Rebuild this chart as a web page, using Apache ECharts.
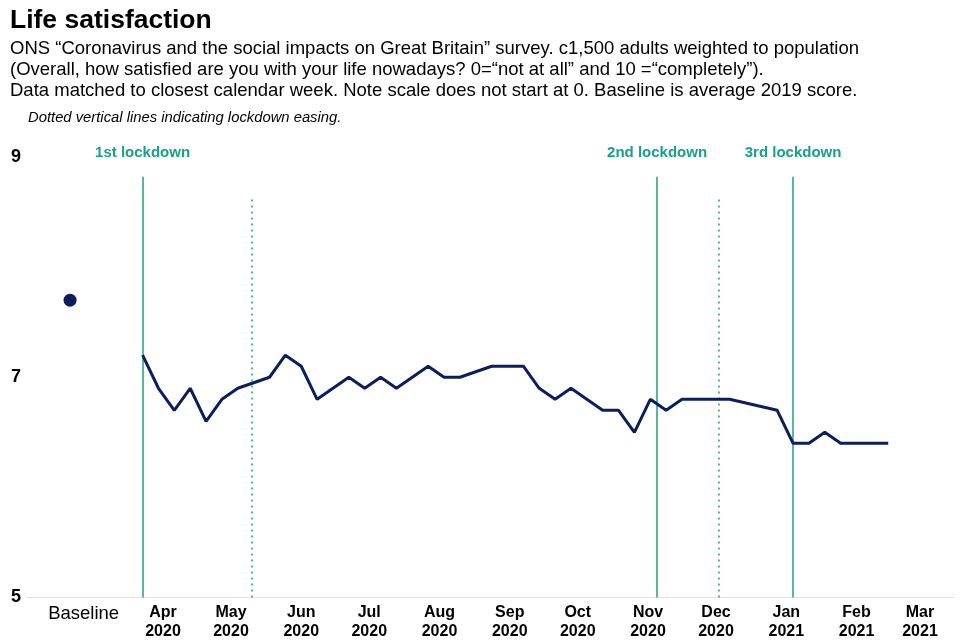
<!DOCTYPE html>
<html>
<head>
<meta charset="utf-8">
<script src="https://cdn.jsdelivr.net/npm/echarts@6/dist/echarts.min.js"></script>
<style>html,body{margin:0;padding:0;background:#fff}#c{width:960px;height:640px}</style>
</head>
<body>
<div id="c"></div>
<script>
const weekDates = ['2020-03-23','2020-03-30','2020-04-06','2020-04-13','2020-04-20','2020-04-27','2020-05-04',
  '2020-05-18','2020-05-25','2020-06-01','2020-06-08','2020-06-22','2020-06-29','2020-07-06','2020-07-13',
  '2020-07-27','2020-08-03','2020-08-10','2020-08-24','2020-08-31','2020-09-07','2020-09-14','2020-09-21',
  '2020-09-28','2020-10-12','2020-10-19','2020-10-26','2020-11-02','2020-11-09','2020-11-16','2020-11-23',
  '2020-11-30','2020-12-07','2020-12-28','2021-01-04','2021-01-11','2021-01-18','2021-01-25','2021-02-01',
  '2021-02-08','2021-02-15'];
const satisfaction = [7.2,6.9,6.7,6.9,6.6,6.8,6.9,
  7.0,7.2,7.1,6.8,7.0,6.9,7.0,6.9,
  7.1,7.0,7.0,7.1,7.1,7.1,6.9,6.8,
  6.9,6.7,6.7,6.5,6.8,6.7,6.8,6.8,
  6.8,6.8,6.7,6.4,6.4,6.5,6.4,6.4,
  6.4,6.4];
const baselineDate = '2020-02-20';
const baselineValue = 7.7;
const baselineLabelDate = '2020-02-26';
const lockdownDates = ['2020-03-23','2020-11-05','2021-01-04'];
const lockdownNames = ['1st lockdown','2nd lockdown','3rd lockdown'];
const easingDates = ['2020-05-10','2020-12-02'];
const monthTicks = ['2020-04-01','2020-05-01','2020-06-01','2020-07-01','2020-08-01','2020-09-01','2020-10-01','2020-11-01','2020-12-01','2021-01-01','2021-02-01','2021-03-01'];
const monthLabels = ['Apr\n2020','May\n2020','Jun\n2020','Jul\n2020','Aug\n2020','Sep\n2020','Oct\n2020','Nov\n2020','Dec\n2020','Jan\n2021','Feb\n2021','Mar\n2021'];
const yTicks = [5,7,9];

// days since 2020-01-01 (UTC) so the x axis is a plain linear day scale
const day = d => Math.round((Date.UTC(+d.slice(0,4), +d.slice(5,7)-1, +d.slice(8,10)) - Date.UTC(2020,0,1)) / 86400000);
const teal = '#1aa088';
const navy = '#0b1f5c';
const font = '"Liberation Sans", Arial, sans-serif';

const labelMap = {};
labelMap[day(baselineLabelDate)] = '{b|Baseline}';
monthTicks.forEach((d, i) => { const p = monthLabels[i].split('\n'); labelMap[day(d)] = '{m|' + p[0] + '}\n{m|' + p[1] + '}'; });

const chart = echarts.init(document.getElementById('c'), null, {renderer: 'canvas'});
chart.setOption({
  animation: false,
  textStyle: {fontFamily: font},
  title: [
    {text: 'Life satisfaction', left: 5, top: 2,
     textStyle: {fontSize: 26.5, fontWeight: 'bold', color: '#000', fontFamily: font}},
    {text: 'ONS \u201cCoronavirus and the social impacts on Great Britain\u201d survey. c1,500 adults weighted to population\n(Overall, how satisfied are you with your life nowadays? 0=\u201cnot at all\u201d and 10 =\u201ccompletely\u201d).\nData matched to closest calendar week. Note scale does not start at 0. Baseline is average 2019 score.',
     left: 5, top: 33,
     textStyle: {fontSize: 18.5, fontWeight: 'normal', color: '#000', lineHeight: 21, fontFamily: font}},
    {text: 'Dotted vertical lines indicating lockdown easing.', left: 23, top: 105,
     textStyle: {fontSize: 14.8, fontWeight: 'normal', fontStyle: 'italic', color: '#000', fontFamily: font}}
  ],
  grid: {left: 27, right: 6, top: 157, bottom: 42},
  xAxis: {
    type: 'value',
    min: day('2020-02-01'), max: day('2021-03-16'),
    axisLine: {show: true, lineStyle: {color: '#e0e0e0', width: 1}},
    axisTick: {show: false},
    splitLine: {show: false},
    axisLabel: {
      customValues: [day(baselineLabelDate)].concat(monthTicks.map(day)),
      formatter: v => labelMap[v] || '',
      margin: 6,
      hideOverlap: false,
      rich: {
        b: {fontSize: 18.5, color: '#000', fontFamily: font, lineHeight: 20},
        m: {fontSize: 16, fontWeight: 'bold', color: '#000', fontFamily: font, lineHeight: 19}
      }
    }
  },
  yAxis: {
    type: 'value', min: 5, max: 9, interval: 2,
    axisLine: {show: false}, axisTick: {show: false}, splitLine: {show: false},
    axisLabel: {fontSize: 18, fontWeight: 'bold', color: '#000', fontFamily: font, margin: 6,
      formatter: v => yTicks.indexOf(v) >= 0 ? String(v) : ''}
  },
  series: [
    {
      type: 'line', name: 'Life satisfaction',
      data: weekDates.map((d, i) => [day(d), satisfaction[i]]),
      symbol: 'none', lineStyle: {color: navy, width: 3}, z: 5,
      markLine: {
        silent: true, symbol: 'none',
        data: lockdownDates.map((d, i) => [
          {coord: [day(d), 5], lineStyle: {color: teal, width: 1.5, type: 'solid'}},
          {coord: [day(d), 8.82], label: {show: true, position: 'end', formatter: lockdownNames[i], color: teal, fontWeight: 'bold', fontSize: 15, fontFamily: font, distance: 16}}
        ]).concat(easingDates.map(d => [
          {coord: [day(d), 5], lineStyle: {color: teal, width: 1.5, type: [2, 4]}},
          {coord: [day(d), 8.64], label: {show: false}}
        ])),
        label: {show: false}
      }
    },
    {
      type: 'scatter', name: 'Baseline',
      data: [[day(baselineDate), baselineValue]],
      symbolSize: 13, itemStyle: {color: navy, opacity: 1}
    }
  ]
});
</script>
</body>
</html>
